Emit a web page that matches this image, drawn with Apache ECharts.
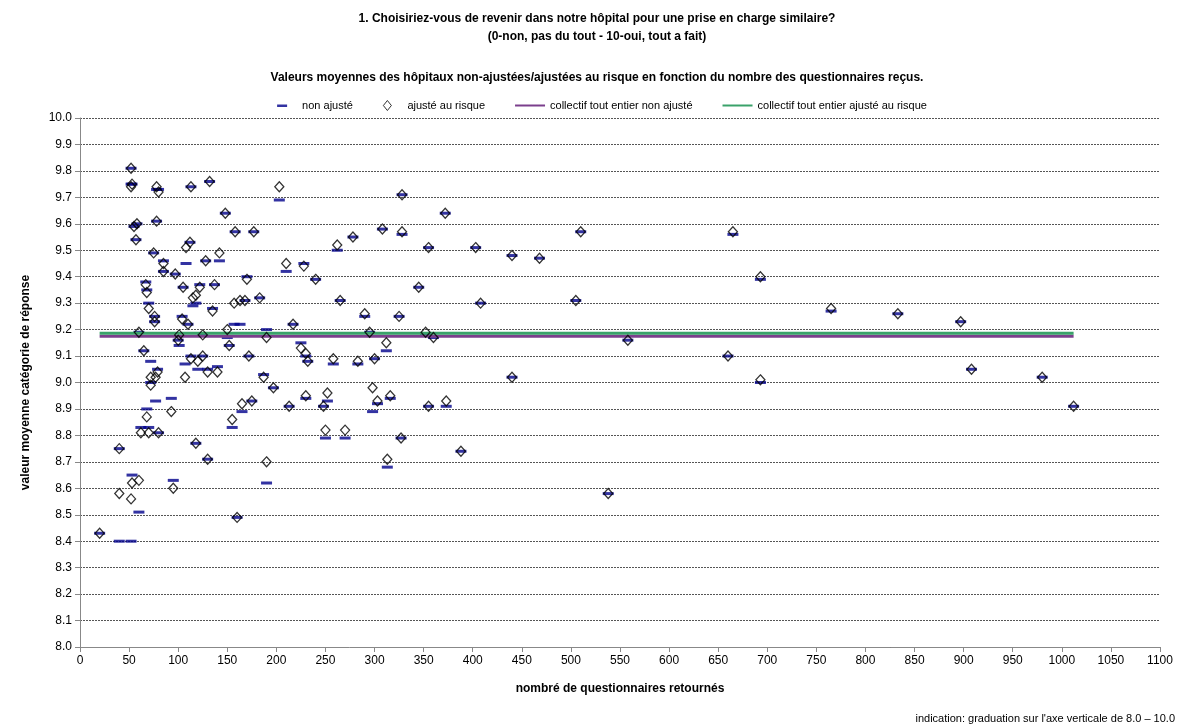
<!DOCTYPE html>
<html><head><meta charset="utf-8">
<script src="https://cdn.jsdelivr.net/npm/echarts@6/dist/echarts.min.js"></script>
<style>html,body{margin:0;padding:0;background:#fff}#c{width:1194px;height:724px}</style>
</head><body><div id="c"></div>
<script>
const hospX = [20,40,40,52,52,53,55,58,57,60,53,52,60,62,65,67,68,70,72,68,70,72,75,76,76,78,80,78,79,77,80,85,85,93,95,97,100,101,104,105,107,108,110,112,113,113,115,118,118,120,122,125,125,128,130,130,132,135,137,140,142,148,150,152,155,157,158,160,163,165,168,170,172,175,177,183,187,190,190,197,203,210,213,217,225,228,230,232,230,240,248,250,252,258,262,265,270,278,283,290,295,298,300,303,308,312,313,316,325,328,327,328,345,352,355,355,360,372,373,388,403,408,440,440,468,505,510,538,558,660,665,693,693,765,833,897,908,980,1012];
const nonAdj = [8.43,8.75,8.40,9.81,9.75,9.75,9.59,9.60,9.54,9.19,8.65,8.40,8.51,8.83,9.12,9.38,9.35,9.30,9.08,8.90,8.83,9.00,9.49,9.25,9.23,9.73,9.73,9.61,9.05,8.93,8.81,9.46,9.42,8.94,8.63,9.41,9.16,9.14,9.25,9.36,9.07,9.45,9.22,9.53,9.74,9.10,9.29,9.30,8.77,9.05,9.37,9.18,9.10,9.46,9.05,8.71,9.76,9.28,9.37,9.06,9.46,9.64,9.17,9.14,8.83,9.22,9.57,8.49,9.22,8.89,9.31,9.40,9.10,8.93,9.57,9.32,9.03,9.20,8.62,8.98,9.69,9.42,8.91,9.22,9.15,9.45,8.94,9.08,9.10,9.39,8.91,8.79,8.93,9.07,9.50,9.31,8.79,9.55,9.07,9.25,9.19,8.89,9.09,8.92,9.58,9.12,8.68,8.94,9.25,9.71,8.79,9.56,9.36,9.18,9.51,8.91,9.17,9.64,8.91,8.74,9.51,9.30,9.48,9.02,9.47,9.31,9.57,8.58,9.16,9.10,9.56,9.39,9.00,9.27,9.26,9.23,9.05,9.02,8.91];
const adj = [8.43,8.75,8.58,9.81,9.74,9.75,9.59,9.60,9.54,9.19,8.62,8.56,8.63,8.81,9.12,9.37,9.34,9.28,9.02,8.87,8.81,8.99,9.49,9.25,9.23,9.74,9.72,9.61,9.04,9.02,8.81,9.45,9.42,8.89,8.60,9.41,9.16,9.18,9.24,9.36,9.02,9.51,9.22,9.53,9.74,9.09,9.32,9.33,8.77,9.08,9.36,9.18,9.10,9.46,9.04,8.71,9.76,9.27,9.37,9.04,9.49,9.64,9.20,9.14,8.86,9.30,9.57,8.49,9.31,8.92,9.31,9.39,9.10,8.93,9.57,9.32,9.02,9.17,8.70,8.98,9.74,9.45,8.91,9.22,9.13,9.44,8.95,9.08,9.11,9.39,8.91,8.82,8.96,9.09,9.52,9.31,8.82,9.55,9.08,9.26,9.19,8.98,9.09,8.93,9.58,9.15,8.71,8.95,9.25,9.71,8.79,9.57,9.36,9.19,9.51,8.91,9.17,9.64,8.93,8.74,9.51,9.30,9.48,9.02,9.47,9.31,9.57,8.58,9.16,9.10,9.57,9.40,9.01,9.28,9.26,9.23,9.05,9.02,8.91];
const overallNonAdj = 9.175, overallAdj = 9.186;
const lineX = [20, 1012];
const fnt = 'Liberation Sans, Arial, sans-serif';
const ts = {fontSize:12,fontWeight:'bold',fontFamily:fnt,color:'#000'};
const chart = echarts.init(document.getElementById('c'));
chart.setOption({
  animation:false,
  textStyle:{fontFamily:fnt,color:'#000'},
  title:[
    {text:'1. Choisiriez-vous de revenir dans notre hôpital pour une prise en charge similaire?',left:'center',top:8,textStyle:ts},
    {text:'(0-non, pas du tout - 10-oui, tout a fait)',left:'center',top:26,textStyle:ts},
    {text:'Valeurs moyennes des hôpitaux non-ajustées/ajustées au risque en fonction du nombre des questionnaires reçus.',left:'center',top:67,textStyle:ts},
    {text:"indication: graduation sur l'axe verticale de 8.0 – 10.0",right:14,top:708,textStyle:{fontSize:11,fontWeight:'normal',fontFamily:fnt,color:'#000'}}
  ],
  legend:{top:95,left:'center',itemGap:30,textStyle:{fontSize:11,fontFamily:fnt,color:'#000'},itemWidth:30,itemHeight:10,
    data:[{name:'non ajusté',icon:'path://M0,0 L0.01,0 Z M30,10 L30.01,10 Z M10,4 L20,4 L20,6.5 L10,6.5 Z',itemStyle:{color:'#00008b'}},
          {name:'ajusté au risque',icon:'path://M15,0 L19,5 L15,10 L11,5 Z',itemStyle:{color:'#fff',borderColor:'#000',borderWidth:1}},
          {name:'collectif tout entier non ajusté',icon:'path://M0,4 L30,4 L30,6 L0,6 Z',itemStyle:{color:'#7b3f8c'}},
          {name:'collectif tout entier ajusté au risque',icon:'path://M0,4 L30,4 L30,6 L0,6 Z',itemStyle:{color:'#3aa26a'}}]},
  grid:{left:80,right:34,top:118,bottom:77},
  xAxis:{type:'value',min:0,max:1100,interval:50,name:'nombré de questionnaires retournés',nameLocation:'middle',nameGap:36,
    nameTextStyle:{fontSize:12,fontWeight:'bold',color:'#000'},axisLine:{lineStyle:{color:'#888'}},axisTick:{show:true,lineStyle:{color:'#888'}},
    axisLabel:{fontSize:12,color:'#000',formatter:v=>String(v)},splitLine:{show:false}},
  yAxis:{type:'value',min:8,max:10,interval:0.1,name:'valeur moyenne catégorie de réponse',nameLocation:'middle',nameGap:48,
    nameTextStyle:{fontSize:12,fontWeight:'bold',color:'#000'},axisLine:{show:true,lineStyle:{color:'#888'}},axisTick:{show:true,lineStyle:{color:'#888'}},
    axisLabel:{fontSize:12,color:'#000',formatter:v=>v.toFixed(1)},splitLine:{lineStyle:{color:'#555',type:[2,1],width:1}}},
  series:[
    {name:'non ajusté',type:'scatter',symbol:'rect',symbolSize:[11,3],itemStyle:{color:'#00008b'},data:hospX.map((x,i)=>[x,nonAdj[i]]),z:2},
    {name:'ajusté au risque',type:'scatter',symbol:'diamond',symbolSize:[9,10],itemStyle:{color:'rgba(255,255,255,0)',borderColor:'#000',borderWidth:1.3},data:hospX.map((x,i)=>[x,adj[i]]),z:4},
    {name:'collectif tout entier non ajusté',type:'line',symbol:'none',lineStyle:{color:'#7b3f8c',width:3},itemStyle:{color:'#7b3f8c'},data:lineX.map(x=>[x,overallNonAdj]),z:3},
    {name:'collectif tout entier ajusté au risque',type:'line',symbol:'none',lineStyle:{color:'#3aa26a',width:3},itemStyle:{color:'#3aa26a'},data:lineX.map(x=>[x,overallAdj]),z:3}
  ]
});
</script></body></html>
